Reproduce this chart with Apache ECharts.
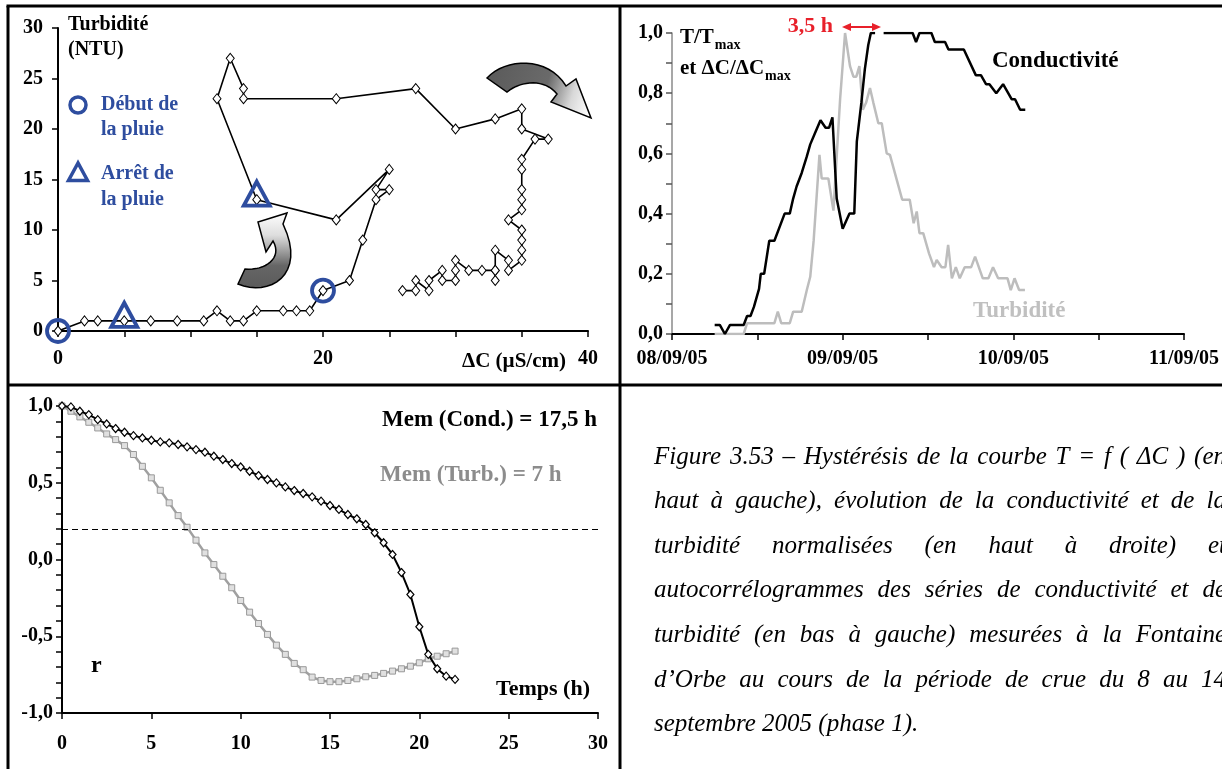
<!DOCTYPE html>
<html><head><meta charset="utf-8">
<script src="https://cdn.jsdelivr.net/npm/echarts@6/dist/echarts.min.js"></script>
<style>html,body{margin:0;padding:0;background:#fff;overflow:hidden}#c{width:1222px;height:769px}</style>
</head><body><div id="c"></div>
<script>
// ---------- DATA ----------
// Top-left : hysteresis T = f(ΔC)
const hystDeltaC = [0,2,3,5,7,9,11,12,13,14,15,17,18,19,20,22,23,24,25,24,25,21,15,12,13,14,14,21,27,30,33,35,35,37,36,35,35,35,35,35,34,35,35,35,35,34,34,33,33,33,33,32,31,30,30,30,29,29,28,28,27,27,26];
const hystTurb   = [0,1,1,1,1,1,1,2,1,1,2,2,2,2,4,5,9,13,14,14,16,11,13,23,27,24,23,23,24,20,21,22,20,19,19,17,16,14,13,12,11,10,9,8,7,6,7,8,6,5,6,6,6,7,6,5,5,6,5,4,5,4,4];
const rainStart = [[0,0],[20,4]];
const rainStop  = [[5,1],[15,13]];

// Top-right : normalised series (time in days since 08/09/05 00:00)
const condTime = [0.25,0.28,0.31,0.34,0.42,0.44,0.46,0.48,0.51,0.52,0.54,0.57,0.60,0.66,0.69,0.71,0.73,0.76,0.79,0.81,0.84,0.87,0.90,0.92,0.94,0.965,1.00,1.04,1.068,1.083,1.11,1.13,1.15,1.165,1.19,1.215,1.24,1.41,1.43,1.45,1.52,1.54,1.60,1.62,1.71,1.78,1.81,1.84,1.86,1.90,1.94,1.96,1.99,2.01,2.04,2.07];
const condNorm = [0.03,0.03,0.0,0.03,0.03,0.06,0.06,0.09,0.15,0.20,0.20,0.31,0.31,0.40,0.40,0.45,0.49,0.535,0.59,0.63,0.67,0.71,0.685,0.685,0.72,0.45,0.35,0.40,0.40,0.64,0.77,0.88,0.96,1.0,1.0,null,1.0,1.0,0.97,1.0,1.0,0.97,0.97,0.945,0.945,0.86,0.86,0.83,0.83,0.80,0.83,0.81,0.78,0.78,0.745,0.745];
const turbTime = [0.25,0.42,0.44,0.60,0.62,0.64,0.69,0.71,0.76,0.79,0.81,0.83,0.864,0.877,0.916,0.946,0.985,1.014,1.043,1.063,1.08,1.098,1.118,1.137,1.16,1.18,1.209,1.229,1.258,1.277,1.317,1.349,1.393,1.416,1.434,1.45,1.472,1.506,1.535,1.551,1.58,1.602,1.618,1.64,1.663,1.686,1.715,1.753,1.776,1.821,1.854,1.881,1.911,1.966,1.985,2.007,2.034,2.068];
const turbNorm = [0,0,0.036,0.036,0.074,0.036,0.036,0.074,0.074,0.146,0.19,0.31,0.595,0.517,0.517,0.41,0.78,1.0,0.89,0.855,0.855,0.89,0.745,0.768,0.817,0.768,0.70,0.70,0.60,0.595,0.512,0.446,0.446,0.368,0.407,0.335,0.335,0.268,0.222,0.246,0.222,0.222,0.296,0.185,0.222,0.185,0.222,0.222,0.257,0.185,0.185,0.222,0.185,0.185,0.146,0.185,0.146,0.146];
const dateLabels = ['08/09/05','09/09/05','10/09/05','11/09/05'];

// Bottom-left : autocorrelograms
const lagHours = [0,0.5,1,1.5,2,2.5,3,3.5,4,4.5,5,5.5,6,6.5,7,7.5,8,8.5,9,9.5,10,10.5,11,11.5,12,12.5,13,13.5,14,14.5,15,15.5,16,16.5,17,17.5,18,18.5,19,19.5,20,20.5,21,21.5,22];
const condAcf = [1.0,0.994,0.966,0.944,0.911,0.883,0.853,0.829,0.807,0.792,0.777,0.766,0.760,0.749,0.734,0.716,0.699,0.673,0.651,0.625,0.603,0.575,0.547,0.521,0.499,0.473,0.449,0.430,0.408,0.380,0.352,0.326,0.293,0.265,0.228,0.174,0.109,0.033,-0.085,-0.228,-0.438,-0.618,-0.712,-0.760,-0.781];
const turbAcf = [1.0,0.966,0.929,0.894,0.857,0.818,0.781,0.742,0.684,0.607,0.532,0.451,0.369,0.286,0.210,0.126,0.043,-0.033,-0.109,-0.184,-0.267,-0.343,-0.417,-0.488,-0.558,-0.618,-0.677,-0.718,-0.766,-0.788,-0.796,-0.796,-0.788,-0.777,-0.764,-0.755,-0.742,-0.727,-0.712,-0.695,-0.673,-0.647,-0.630,-0.614,-0.597];
const memThreshold = 0.2;

const captionLines = [
  "Figure 3.53 – Hystérésis de la courbe T = f ( ΔC ) (en",
  "haut à gauche), évolution de la conductivité et de la",
  "turbidité normalisées (en haut à droite) et",
  "autocorrélogrammes des séries de conductivité et de",
  "turbidité (en bas à gauche) mesurées à la Fontaine",
  "d’Orbe au cours de la période de crue du 8 au 14",
  "septembre 2005 (phase 1)."
];

// ---------- HELPERS ----------
const zip = (a, b) => a.map((v, i) => [v, b[i]]);
const SERIF = '"Liberation Serif","Times New Roman",serif';
const BLUE = '#2E4D9F';
const comma = v => v.toFixed(1).replace('.', ',');
const lab = (size, margin, fmt) => ({fontFamily: SERIF, fontWeight: 'bold', fontSize: size, color: '#000', margin: margin, formatter: fmt});
const axLine = (c, w) => ({show: true, onZero: false, lineStyle: {color: c || '#000', width: w || 2}});
const tick = (len, c) => ({show: true, inside: false, length: len, lineStyle: {color: c || '#000', width: 1.5}});
const measureCtx = document.createElement('canvas').getContext('2d');
function textWidth(s, font) { measureCtx.font = font; return measureCtx.measureText(s).width; }
const boldFont = size => 'bold ' + size + 'px ' + SERIF;

function txt(text, x, y, size, color, opts) {
  opts = opts || {};
  return {type: 'text', z: 100, style: {text: text, x: x, y: y,
    font: (opts.italic ? 'italic ' : '') + (opts.normal ? 'normal ' : 'bold ') + size + 'px ' + (opts.family || SERIF),
    fill: color || '#000', textAlign: opts.align || 'left', align: opts.align || 'left',
    textVerticalAlign: 'middle', verticalAlign: 'middle'}};
}

// outline of a decorative curved arrow: list of segments (points or cubic beziers)
function outline(segs) {
  const pts = [];
  let cur = segs[0];
  pts.push(cur);
  for (let i = 1; i < segs.length; i++) {
    const s = segs[i];
    if (s.length === 3) {
      for (let t = 1; t <= 16; t++) {
        const u = t / 16, m = 1 - u;
        pts.push([
          m*m*m*cur[0] + 3*m*m*u*s[0][0] + 3*m*u*u*s[1][0] + u*u*u*s[2][0],
          m*m*m*cur[1] + 3*m*m*u*s[0][1] + 3*m*u*u*s[1][1] + u*u*u*s[2][1]
        ]);
      }
      cur = s[2];
    } else { pts.push(s); cur = s; }
  }
  return pts;
}

function captionElements() {
  const size = 25, fam = '"Liberation Serif",serif';
  const font = 'italic ' + size + 'px ' + fam;
  const x0 = 654, right = 1226, y0 = 457, dy = 44.6;
  const els = [];
  captionLines.forEach((line, i) => {
    const words = line.split(' ');
    const w = words.map(s => textWidth(s, font));
    const tot = w.reduce((a, b) => a + b, 0);
    let gap = (i < captionLines.length - 1 && words.length > 1) ? (right - x0 - tot) / (words.length - 1) : textWidth(' ', font);
    if (gap < size * 0.2) gap = size * 0.2;
    let x = x0;
    words.forEach((s, k) => {
      els.push(txt(s, x, y0 + i * dy, size, '#000', {italic: true, normal: true, family: fam}));
      x += w[k] + gap;
    });
  });
  return els;
}

// ---------- CHART ----------
const chart = echarts.init(document.getElementById('c'), null, {renderer: 'canvas'});

const topArrow = outline([[487,78], [[505,58],[548,56],[566,86]], [576,79], [591,118], [551,102], [557,94], [[545,79],[522,80],[507,92]]]);
const lowArrow = outline([[238,284], [[268,297],[308,276],[283,224]], [287,213], [258,222], [266,252], [273,241], [[283,258],[265,271],[245,269]]]);

const tW = textWidth('T/T', boldFont(21));
const eW = textWidth('et ΔC/ΔC', boldFont(21));

const graphics = [
  // frames
  {type: 'line', shape: {x1: 6.5, y1: 6, x2: 1222, y2: 6}, style: {stroke: '#000', lineWidth: 3}},
  {type: 'line', shape: {x1: 8, y1: 6, x2: 8, y2: 769}, style: {stroke: '#000', lineWidth: 3}},
  {type: 'line', shape: {x1: 8, y1: 385, x2: 1222, y2: 385}, style: {stroke: '#000', lineWidth: 3}},
  {type: 'line', shape: {x1: 620, y1: 6, x2: 620, y2: 769}, style: {stroke: '#000', lineWidth: 3}},
  // curved arrows (decoration)
  {type: 'polygon', z: 50, shape: {points: topArrow},
   style: {stroke: '#000', lineWidth: 1.5,
     fill: new echarts.graphic.LinearGradient(0, 0.2, 1, 0.8, [{offset: 0, color: '#5a5a5a'}, {offset: 0.55, color: '#6a6a6a'}, {offset: 0.8, color: '#d8d8d8'}, {offset: 1, color: '#ffffff'}])}},
  {type: 'polygon', z: 50, shape: {points: lowArrow},
   style: {stroke: '#000', lineWidth: 1.5,
     fill: new echarts.graphic.LinearGradient(0, 1, 0, 0, [{offset: 0, color: '#5a5a5a'}, {offset: 0.3, color: '#666666'}, {offset: 0.7, color: '#dedede'}, {offset: 1, color: '#ffffff'}])}},
  // top-left texts
  txt('Turbidité', 68, 25, 20),
  txt('(NTU)', 68, 50, 20),
  {type: 'circle', z: 100, shape: {cx: 78, cy: 105, r: 8}, style: {fill: 'none', stroke: BLUE, lineWidth: 3.5}},
  txt('Début de', 101, 105, 20, BLUE),
  txt('la pluie', 101, 130, 20, BLUE),
  {type: 'polygon', z: 100, shape: {points: [[78, 163], [68.5, 180.5], [87.5, 180.5]]}, style: {fill: 'none', stroke: BLUE, lineWidth: 3.5}},
  txt('Arrêt de', 101, 174, 20, BLUE),
  txt('la pluie', 101, 200, 20, BLUE),
  txt('ΔC (µS/cm)', 566, 362, 21, '#000', {align: 'right'}),
  // top-right texts
  txt('T/T', 680, 38, 21),
  txt('max', 680 + tW + 1, 45, 14),
  txt('et ΔC/ΔC', 680, 69, 21),
  txt('max', 680 + eW + 1, 76, 14),
  txt('3,5 h', 833, 26, 22, '#E8202A', {align: 'right'}),
  {type: 'line', z: 100, shape: {x1: 848, y1: 27, x2: 875, y2: 27}, style: {stroke: '#E8202A', lineWidth: 2}},
  {type: 'polygon', z: 100, shape: {points: [[842, 27], [851, 23], [851, 31]]}, style: {fill: '#E8202A'}},
  {type: 'polygon', z: 100, shape: {points: [[881, 27], [872, 23], [872, 31]]}, style: {fill: '#E8202A'}},
  txt('Conductivité', 992, 61, 23),
  txt('Turbidité', 973, 311, 23, '#C0C0C0'),
  // bottom-left texts
  txt('Mem (Cond.) = 17,5 h', 597, 420, 23, '#000', {align: 'right'}),
  txt('Mem (Turb.) = 7 h', 380, 475, 23, '#8C8C8C'),
  txt('r', 91, 666, 24),
  txt('Temps (h)', 590, 689, 22, '#000', {align: 'right'})
].concat(captionElements());

const option = {
  animation: false,
  backgroundColor: '#fff',
  grid: [
    {left: 58, top: 28, width: 530, height: 303},
    {left: 672, top: 33, width: 512, height: 301},
    {left: 62, top: 406, width: 536, height: 307}
  ],
  xAxis: [
    {gridIndex: 0, type: 'value', min: 0, max: 40, interval: 5, axisLine: axLine(), axisTick: tick(6), splitLine: {show: false},
     axisLabel: lab(20, 18, v => (v % 20 === 0 ? String(v) : ''))},
    {gridIndex: 1, type: 'value', min: 0, max: 3, interval: 0.5, axisLine: axLine(), axisTick: tick(6), splitLine: {show: false},
     axisLabel: lab(20, 15, v => (Math.abs(v - Math.round(v)) < 1e-6 ? dateLabels[Math.round(v)] : ''))},
    {gridIndex: 2, type: 'value', min: 0, max: 30, interval: 5, axisLine: axLine(), axisTick: tick(6), splitLine: {show: false},
     axisLabel: lab(20, 21, v => String(v))}
  ],
  yAxis: [
    {gridIndex: 0, type: 'value', min: 0, max: 30, interval: 5, axisLine: axLine(), axisTick: tick(6), splitLine: {show: false},
     axisLabel: lab(20, 15, v => String(v))},
    {gridIndex: 1, type: 'value', min: 0, max: 1, interval: 0.1, axisLine: axLine('#8a8a8a', 1.5), axisTick: tick(6, '#555'), splitLine: {show: false},
     axisLabel: lab(20, 9, v => (Math.round(v * 10) % 2 === 0 ? comma(v) : ''))},
    {gridIndex: 2, type: 'value', min: -1, max: 1, interval: 0.1, axisLine: axLine(), axisTick: tick(6), splitLine: {show: false},
     axisLabel: lab(20, 9, v => (Math.round(v * 10) % 5 === 0 ? comma(v) : ''))}
  ],
  series: [
    {type: 'line', xAxisIndex: 0, yAxisIndex: 0, data: zip(hystDeltaC, hystTurb), symbol: 'diamond', symbolSize: [8, 10], showSymbol: true,
     lineStyle: {color: '#000', width: 1.6}, itemStyle: {color: '#fff', borderColor: '#000', borderWidth: 1}, z: 3},
    {type: 'scatter', xAxisIndex: 0, yAxisIndex: 0, data: rainStart, symbol: 'circle', symbolSize: 22,
     itemStyle: {color: 'rgba(0,0,0,0)', borderColor: BLUE, borderWidth: 3.8, opacity: 1}, z: 5},
    {type: 'scatter', xAxisIndex: 0, yAxisIndex: 0, data: rainStop, symbol: 'triangle', symbolSize: [26, 24], symbolOffset: [0, -6],
     itemStyle: {color: 'rgba(0,0,0,0)', borderColor: BLUE, borderWidth: 3.8, opacity: 1}, z: 5},

    {type: 'line', xAxisIndex: 1, yAxisIndex: 1, data: zip(turbTime, turbNorm), showSymbol: false, symbol: 'none',
     lineStyle: {color: '#BDBDBD', width: 2.5}, z: 2},
    {type: 'line', xAxisIndex: 1, yAxisIndex: 1, data: zip(condTime, condNorm), showSymbol: false, symbol: 'none', connectNulls: false,
     lineStyle: {color: '#000', width: 2.5}, z: 3},

    {type: 'line', xAxisIndex: 2, yAxisIndex: 2, data: zip(lagHours, turbAcf), symbol: 'rect', symbolSize: 6,
     lineStyle: {color: '#A0A0A0', width: 2.5}, itemStyle: {color: '#e0e0e0', borderColor: '#999999', borderWidth: 1}, z: 2},
    {type: 'line', xAxisIndex: 2, yAxisIndex: 2, data: zip(lagHours, condAcf), symbol: 'diamond', symbolSize: [7, 8],
     lineStyle: {color: '#000', width: 2}, itemStyle: {color: '#fff', borderColor: '#000', borderWidth: 1.2}, z: 3,
     markLine: {silent: true, symbol: 'none', label: {show: false}, lineStyle: {color: '#000', width: 1.2, type: [6, 4]},
       data: [{yAxis: memThreshold}]}}
  ],
  graphic: graphics
};
chart.setOption(option);
</script>
</body></html>
